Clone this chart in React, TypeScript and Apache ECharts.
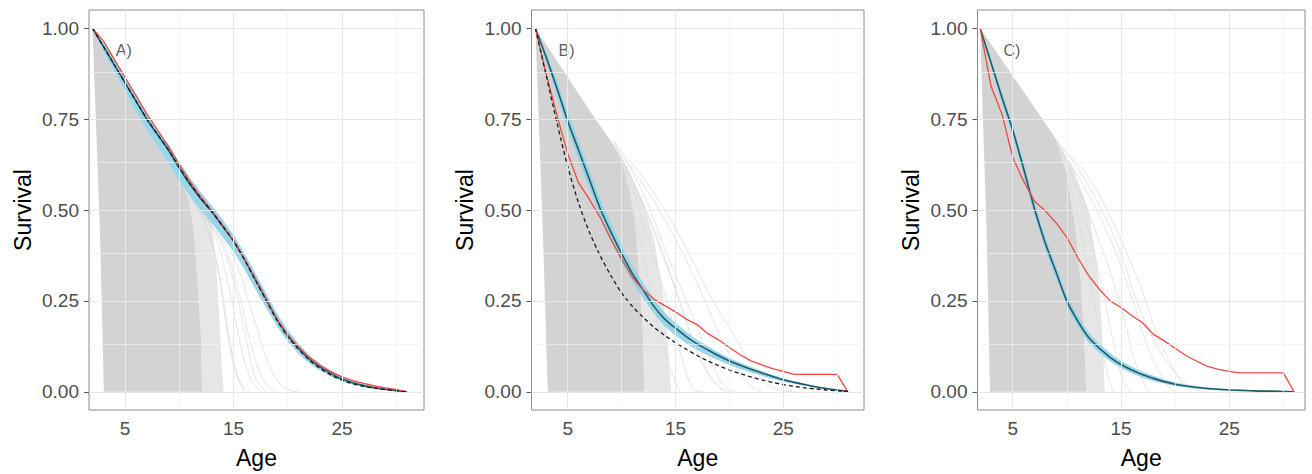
import React, { useEffect, useRef } from "react";
import * as echarts from "echarts";

const FONT = "'Liberation Sans', Arial, Helvetica, sans-serif";

// ---------- data ----------
const ages = [2, 3, 4, 5, 6, 7, 8, 9, 10, 11, 12, 13, 14, 15, 16, 17, 18, 19, 20, 21, 22, 23, 24, 25, 26, 27, 28, 29, 30, 31];

const panelLabels = ["A)", "B)", "C)"];
const xTicks = [5, 15, 25];
const xMinor = [10, 20, 30];
const yTicks = [0, 0.25, 0.5, 0.75, 1];
const yMinor = [0.125, 0.375, 0.625, 0.875];

// Panel A
const medianA = [1.0, 0.95, 0.9, 0.85, 0.8, 0.75, 0.707, 0.665, 0.615, 0.57, 0.53, 0.495, 0.455, 0.415, 0.365, 0.31, 0.255, 0.2, 0.155, 0.12, 0.09, 0.068, 0.05, 0.035, 0.025, 0.017, 0.011, 0.007, 0.003, 0.0];
const upperA = [1.0, 0.96, 0.915, 0.865, 0.815, 0.765, 0.72, 0.68, 0.632, 0.588, 0.548, 0.512, 0.473, 0.432, 0.382, 0.327, 0.272, 0.216, 0.17, 0.133, 0.1, 0.077, 0.057, 0.041, 0.03, 0.021, 0.014, 0.009, 0.005, 0.001];
const lowerA = [1.0, 0.935, 0.88, 0.825, 0.77, 0.72, 0.675, 0.628, 0.578, 0.535, 0.497, 0.463, 0.425, 0.385, 0.337, 0.283, 0.232, 0.18, 0.138, 0.105, 0.078, 0.058, 0.042, 0.029, 0.02, 0.013, 0.008, 0.005, 0.002, 0.0];
const observedA = [1.0, 0.965, 0.915, 0.865, 0.815, 0.765, 0.72, 0.675, 0.625, 0.578, 0.535, 0.498, 0.458, 0.415, 0.365, 0.31, 0.255, 0.2, 0.158, 0.123, 0.094, 0.072, 0.055, 0.041, 0.031, 0.023, 0.016, 0.011, 0.007, 0.0];
const trueA = [1.0, 0.95, 0.9, 0.85, 0.8, 0.752, 0.708, 0.665, 0.617, 0.572, 0.532, 0.496, 0.456, 0.415, 0.364, 0.308, 0.252, 0.197, 0.152, 0.117, 0.087, 0.064, 0.046, 0.032, 0.022, 0.015, 0.01, 0.006, 0.003, 0.0];
const denseA = [[2, 1], [3, 0.935], [4, 0.88], [5, 0.825], [6, 0.77], [7, 0.72], [8, 0.675], [9, 0.628], [10, 0.578], [10.8, 0.54], [11.3, 0.45], [11.7, 0.3], [12, 0.15], [12.1, 0], [3.05, 0], [2.7, 0.43], [2.25, 0.8]];
const mediumA = [[10.8, 0.54], [11, 0.535], [12, 0.497], [13, 0.463], [13.4, 0.35], [13.7, 0.2], [13.9, 0.08], [14.1, 0], [12.1, 0], [12, 0.15], [11.7, 0.3], [11.3, 0.45]];
const faintA = [
  [[10, 0.575], [12, 0.49], [13.5, 0.35], [14.5, 0.15], [15.5, 0.03], [16.5, 0]],
  [[11, 0.53], [13, 0.45], [14.5, 0.3], [15.5, 0.15], [16.5, 0.04], [17.5, 0]],
  [[11.5, 0.515], [12.8, 0.43], [13.8, 0.3], [14.6, 0.15], [15.3, 0.05], [16, 0]],
  [[12, 0.49], [14, 0.41], [15.5, 0.27], [16.7, 0.12], [17.8, 0.03], [19, 0]],
  [[12.5, 0.478], [14, 0.4], [15.2, 0.28], [16.2, 0.14], [17, 0.04], [18, 0]],
  [[13, 0.455], [15, 0.37], [16.7, 0.22], [18.2, 0.08], [19.5, 0.015], [21, 0]],
];

// Panel B
const medianB = [1.0, 0.92, 0.835, 0.745, 0.665, 0.585, 0.505, 0.44, 0.38, 0.325, 0.28, 0.235, 0.2, 0.175, 0.152, 0.132, 0.115, 0.099, 0.085, 0.073, 0.062, 0.052, 0.042, 0.033, 0.026, 0.02, 0.014, 0.009, 0.005, 0.001];
const upperB = [1.0, 0.935, 0.855, 0.768, 0.69, 0.61, 0.53, 0.463, 0.402, 0.346, 0.3, 0.254, 0.217, 0.19, 0.165, 0.143, 0.125, 0.108, 0.093, 0.08, 0.068, 0.057, 0.047, 0.037, 0.029, 0.022, 0.016, 0.011, 0.006, 0.002];
const lowerB = [1.0, 0.905, 0.815, 0.722, 0.64, 0.56, 0.48, 0.415, 0.355, 0.302, 0.258, 0.215, 0.18, 0.155, 0.133, 0.115, 0.1, 0.086, 0.074, 0.063, 0.053, 0.044, 0.036, 0.028, 0.022, 0.016, 0.011, 0.007, 0.004, 0.0];
const observedB = [1.0, 0.875, 0.76, 0.655, 0.575, 0.53, 0.48, 0.42, 0.365, 0.315, 0.28, 0.255, 0.237, 0.22, 0.2, 0.185, 0.16, 0.143, 0.122, 0.102, 0.085, 0.074, 0.064, 0.056, 0.048, 0.048, 0.048, 0.048, 0.048, 0.0];
const trueB = [1.0, 0.87, 0.74, 0.62, 0.52, 0.44, 0.375, 0.32, 0.272, 0.235, 0.205, 0.178, 0.155, 0.135, 0.117, 0.1, 0.085, 0.072, 0.06, 0.05, 0.041, 0.033, 0.026, 0.02, 0.015, 0.011, 0.008, 0.005, 0.003, 0.001];
const denseB = [[2, 1], [5, 0.865], [7, 0.775], [9, 0.69], [10, 0.64], [10.8, 0.55], [11.3, 0.45], [11.7, 0.3], [12, 0.15], [12.1, 0], [3.15, 0], [2.7, 0.43], [2.25, 0.8]];
const mediumB = [[9, 0.69], [10.5, 0.62], [12, 0.52], [13, 0.42], [13.8, 0.28], [14.3, 0.13], [14.6, 0], [12.1, 0], [12, 0.15], [11.7, 0.3], [11.3, 0.45], [10.8, 0.55], [10, 0.64]];
const faintB = [
  [[9.2, 0.69], [11.7, 0.6], [14.2, 0.49], [16.6, 0.36], [18.5, 0.25], [20.4, 0.158], [22.2, 0.066], [24.1, 0.01], [26, 0]],
  [[9.3, 0.68], [12, 0.57], [14.8, 0.43], [17.3, 0.28], [19.5, 0.13], [21.5, 0.03], [23, 0]],
  [[9.2, 0.69], [11.7, 0.565], [14.2, 0.38], [16, 0.25], [17.9, 0.112], [19.4, 0.02], [20.5, 0]],
  [[9.8, 0.65], [11.5, 0.55], [13.5, 0.4], [15.5, 0.24], [17.2, 0.1], [18.8, 0.02], [20, 0]],
  [[9.5, 0.67], [11, 0.58], [13, 0.45], [14.8, 0.3], [16.5, 0.15], [18, 0.05], [19.5, 0]],
  [[9.5, 0.66], [10.5, 0.6], [12.3, 0.435], [14.2, 0.25], [15.4, 0.112], [16.6, 0.01], [17.5, 0]],
  [[10, 0.63], [10.5, 0.565], [12, 0.38], [13.2, 0.205], [14.5, 0.066], [15.4, 0]],
];

// Panel C
const medianC = [1.0, 0.905, 0.81, 0.72, 0.615, 0.505, 0.41, 0.33, 0.25, 0.195, 0.15, 0.12, 0.095, 0.075, 0.06, 0.047, 0.037, 0.028, 0.021, 0.016, 0.012, 0.009, 0.007, 0.005, 0.004, 0.003, 0.002, 0.002, 0.001, 0.0];
const upperC = [1.0, 0.915, 0.825, 0.735, 0.632, 0.523, 0.427, 0.346, 0.265, 0.209, 0.163, 0.132, 0.106, 0.085, 0.069, 0.055, 0.044, 0.034, 0.026, 0.02, 0.016, 0.012, 0.01, 0.007, 0.006, 0.005, 0.003, 0.003, 0.002, 0.0];
const lowerC = [1.0, 0.895, 0.795, 0.703, 0.597, 0.487, 0.392, 0.313, 0.234, 0.18, 0.136, 0.107, 0.084, 0.065, 0.051, 0.039, 0.03, 0.022, 0.016, 0.012, 0.009, 0.006, 0.004, 0.003, 0.002, 0.001, 0.001, 0.001, 0.0, 0.0];
const observedC = [1.0, 0.84, 0.765, 0.645, 0.58, 0.525, 0.498, 0.465, 0.425, 0.37, 0.32, 0.282, 0.25, 0.232, 0.21, 0.19, 0.158, 0.14, 0.12, 0.1, 0.084, 0.07, 0.062, 0.056, 0.052, 0.052, 0.052, 0.052, 0.052, 0.0];
const denseC = [[2, 1], [9, 0.695], [10, 0.6], [10.8, 0.45], [11.3, 0.3], [11.6, 0.15], [11.8, 0], [2.9, 0], [2.6, 0.43], [2.2, 0.8]];
const mediumC = [[9, 0.695], [10.5, 0.62], [12, 0.5], [12.8, 0.35], [13.2, 0.2], [13.4, 0.08], [13.5, 0], [11.8, 0], [11.6, 0.15], [11.3, 0.3], [10.8, 0.45], [10, 0.6]];
const faintC = [
  [[9.06, 0.693], [10.9, 0.619], [13.37, 0.49], [15.21, 0.362], [16.45, 0.25], [18.6, 0.112], [21.07, 0.02], [22.6, 0]],
  [[9.2, 0.68], [12, 0.59], [14.5, 0.45], [16.8, 0.29], [18.6, 0.14], [20.3, 0.04], [21.5, 0]],
  [[9.3, 0.67], [11.5, 0.57], [14, 0.42], [16, 0.26], [17.5, 0.12], [19, 0.03], [20, 0]],
  [[9.5, 0.66], [10.9, 0.57], [13.37, 0.385], [15.2, 0.21], [16.45, 0.07], [17.5, 0]],
  [[10, 0.62], [11.5, 0.5], [13, 0.32], [14.2, 0.15], [15.2, 0.03], [16, 0]],
  [[10, 0.6], [11.2, 0.45], [12.5, 0.25], [13.5, 0.08], [14.3, 0]],
];

// ---------- option ----------
const panels = [
  { median: medianA, upper: upperA, lower: lowerA, observed: observedA, truth: trueA, dense: denseA, medium: mediumA, faint: faintA },
  { median: medianB, upper: upperB, lower: lowerB, observed: observedB, truth: trueB, dense: denseB, medium: mediumB, faint: faintB },
  { median: medianC, upper: upperC, lower: lowerC, observed: observedC, truth: null as number[] | null, dense: denseC, medium: mediumC, faint: faintC },
];

const layout = [
  { left: 89, width: 335, xmin: 1.68, xmax: 32.56 },
  { left: 531.5, width: 332.5, xmin: 1.64, xmax: 32.49 },
  { left: 977.5, width: 327.5, xmin: 1.75, xmax: 32.0 },
];

const pair = (ys: number[]) => ages.map((a, k) => [a, ys[k]]);

function polySeries(i: number, pts: number[][], color: string, opacity = 1) {
  return {
    type: "custom",
    xAxisIndex: i,
    yAxisIndex: i,
    silent: true,
    clip: true,
    z: 2,
    data: [pts[0]],
    encode: { x: 0, y: 1 },
    renderItem: (_params: any, api: any) => ({
      type: "polygon",
      shape: { points: pts.map((p) => api.coord(p)) },
      style: { fill: color, opacity },
    }),
  };
}

function lineSeries(i: number, data: number[][], color: string, width: number, type: any = "solid", smooth: any = false) {
  return {
    type: "line",
    xAxisIndex: i,
    yAxisIndex: i,
    data,
    symbol: "none",
    showSymbol: false,
    smooth,
    silent: true,
    z: 2,
    lineStyle: { color, width, type },
  };
}

function buildOption() {
  const series: any[] = [];
  panels.forEach((p, i) => {
    series.push({
      type: "line",
      xAxisIndex: i,
      yAxisIndex: i,
      data: [],
      z: 1,
      silent: true,
      markLine: {
        silent: true,
        symbol: ["none", "none"],
        label: { show: false },
        emphasis: { disabled: true },
        data: [
          ...xMinor.map((v) => ({ xAxis: v, lineStyle: { color: "#f2f2f2", width: 0.7, type: "solid" } })),
          ...yMinor.map((v) => ({ yAxis: v, lineStyle: { color: "#f2f2f2", width: 0.7, type: "solid" } })),
          ...xTicks.map((v) => ({ xAxis: v, lineStyle: { color: "#e8e8e8", width: 1.1, type: "solid" } })),
          ...yTicks.map((v) => ({ yAxis: v, lineStyle: { color: "#e8e8e8", width: 1.1, type: "solid" } })),
        ],
      },
    });
    series.push(polySeries(i, p.medium, "#e6e6e6"));
    series.push(polySeries(i, p.dense, "#d3d3d3"));
    p.faint.forEach((f) => series.push(lineSeries(i, f, "#dadada", 0.7, "solid", 0.4)));
    const ribbon = pair(p.upper).concat(pair(p.lower).reverse());
    series.push(polySeries(i, ribbon, "#8fd1e8", 0.9));
    series.push(lineSeries(i, pair(p.median), "#1f5c6a", 1.6, "solid", 0.3));
    series.push(lineSeries(i, pair(p.observed), "#ec4a43", 1.3));
    if (p.truth) series.push(lineSeries(i, pair(p.truth), "#1a1a1a", 1.3, [4, 3], 0.3));
    series.push({
      type: "scatter",
      xAxisIndex: i,
      yAxisIndex: i,
      silent: true,
      z: 3,
      symbolSize: 0,
      data: [[4.15, 0.94]],
      label: {
        show: true,
        formatter: panelLabels[i],
        position: "right",
        distance: 0,
        color: "#333333",
        fontSize: 16,
        fontFamily: FONT,
      },
    });
  });

  return {
    animation: false,
    backgroundColor: "#ffffff",
    grid: layout.map((l) => ({
      left: l.left,
      top: 10,
      width: l.width,
      height: 400,
      show: true,
      borderColor: "#8c8c8c",
      borderWidth: 1,
      backgroundColor: "#ffffff",
      containLabel: false,
      outerBoundsMode: "none",
    })),
    xAxis: layout.map((l, i) => ({
      type: "value",
      gridIndex: i,
      min: l.xmin,
      max: l.xmax,
      name: "Age",
      nameLocation: "middle",
      nameGap: 36,
      nameTextStyle: { fontSize: 23, color: "#000", fontFamily: FONT },
      axisLine: { show: false },
      axisTick: { show: true, customValues: xTicks, length: 5, lineStyle: { color: "#555", width: 1 } },
      axisLabel: { show: true, customValues: xTicks, fontSize: 19, color: "#4d4d4d", margin: 9, fontFamily: FONT },
      splitLine: { show: false },
    })),
    yAxis: layout.map((_l, i) => ({
      type: "value",
      gridIndex: i,
      min: -0.05,
      max: 1.05,
      name: "Survival",
      nameLocation: "middle",
      nameGap: 55,
      nameTextStyle: { fontSize: 23, color: "#000", fontFamily: FONT },
      axisLine: { show: false },
      axisTick: { show: true, customValues: yTicks, length: 5, lineStyle: { color: "#555", width: 1 } },
      axisLabel: {
        show: true,
        customValues: yTicks,
        fontSize: 19,
        color: "#4d4d4d",
        margin: 10,
        fontFamily: FONT,
        formatter: (v: number) => v.toFixed(2),
      },
      splitLine: { show: false },
    })),
    series,
  };
}

export default function App() {
  const ref = useRef<HTMLDivElement>(null);
  useEffect(() => {
    const chart = echarts.init(ref.current!, undefined, { renderer: "svg" });
    chart.setOption(buildOption() as any);
    return () => chart.dispose();
  }, []);
  return (
    <div
      ref={ref}
      style={{ position: "absolute", left: 0, top: 0, width: 1312, height: 474, background: "#fff" }}
    />
  );
}
